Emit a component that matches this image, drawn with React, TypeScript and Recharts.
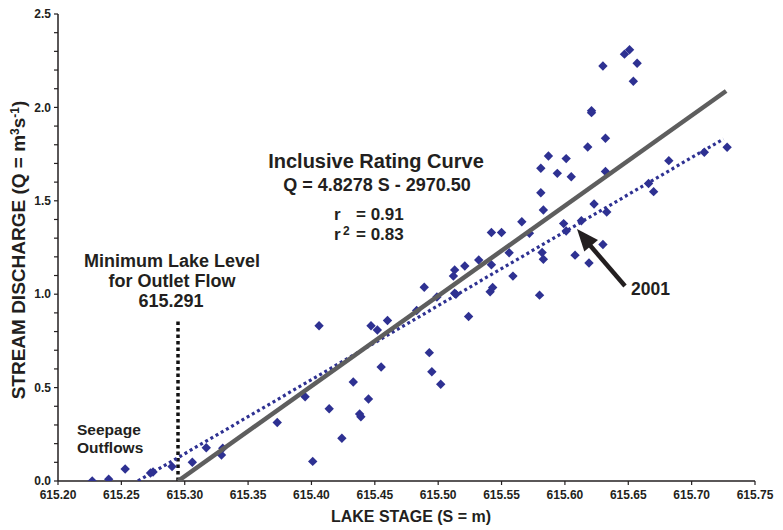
import { ScatterChart, Scatter, XAxis, YAxis, ReferenceLine } from 'recharts'

// lake stage (m) and stream discharge (m3/s)
const stage = [
  615.227, 615.24, 615.253, 615.273, 615.275, 615.29, 615.306, 615.317, 615.33, 615.329,
  615.373, 615.395, 615.401, 615.406, 615.414, 615.424, 615.433, 615.438, 615.439, 615.445,
  615.447, 615.452, 615.455, 615.46, 615.483, 615.489, 615.493, 615.495, 615.499, 615.502,
  615.512, 615.513, 615.513, 615.514, 615.521, 615.524, 615.532, 615.542, 615.542, 615.55,
  615.541, 615.543, 615.556, 615.559, 615.566, 615.572, 615.58, 615.581, 615.581, 615.582,
  615.583, 615.583, 615.587, 615.594, 615.599, 615.601, 615.601, 615.605, 615.608, 615.613,
  615.618, 615.619, 615.621, 615.621, 615.623, 615.63, 615.63, 615.632, 615.632, 615.633,
  615.647, 615.651, 615.657, 615.654, 615.666, 615.67, 615.682, 615.71, 615.728,
]
const discharge = [
  0.0, 0.01, 0.064, 0.043, 0.048, 0.077, 0.1, 0.178, 0.175, 0.139,
  0.313, 0.451, 0.105, 0.831, 0.387, 0.229, 0.53, 0.359, 0.344, 0.439,
  0.831, 0.808, 0.61, 0.859, 0.913, 1.037, 0.687, 0.585, 0.985, 0.518,
  1.097, 1.13, 1.005, 1.0, 1.151, 0.881, 1.183, 1.158, 1.33, 1.33,
  1.013, 1.036, 1.222, 1.097, 1.388, 1.326, 0.995, 1.543, 1.674, 1.223,
  1.187, 1.451, 1.74, 1.647, 1.378, 1.338, 1.726, 1.629, 1.209, 1.393,
  1.788, 1.167, 1.982, 1.972, 1.483, 1.266, 2.222, 1.835, 1.657, 1.44,
  2.285, 2.309, 2.236, 2.14, 1.593, 1.549, 1.715, 1.76, 1.787,
]

// inclusive rating curve (solid) and 2001 trend (dotted), end points as drawn
const ratingStage = [615.2947, 615.7272]
const ratingQ = [0, 2.088]
const trendStage = [615.2631, 615.7251]
const trendQ = [0, 1.831]

const minLevelStage = 615.2947
const minLevelTop = 0.862

const xTicks = [615.2, 615.25, 615.3, 615.35, 615.4, 615.45, 615.5, 615.55, 615.6, 615.65, 615.7, 615.75]
const yTicks = [
  0, 0.1, 0.2, 0.3, 0.4, 0.5, 0.6, 0.7, 0.8, 0.9, 1.0, 1.1, 1.2,
  1.3, 1.4, 1.5, 1.6, 1.7, 1.8, 1.9, 2.0, 2.1, 2.2, 2.3, 2.4, 2.5,
]

const INK = '#231f20'
const BLUE = '#2e3192'
const GREY = '#5e5e5e'
const FONT = '"Liberation Sans", Arial, Helvetica, sans-serif'

const toPoints = (xs: number[], ys: number[]) => xs.map((x, i) => ({ x, y: ys[i] }))

const points = toPoints(stage, discharge)
const rating = toPoints(ratingStage, ratingQ)
const trend = toPoints(trendStage, trendQ)

function Diamond(props: any) {
  const { cx, cy } = props
  if (cx == null || cy == null) return <g />
  const r = 4.7
  return <polygon points={`${cx},${cy - r} ${cx + r},${cy} ${cx},${cy + r} ${cx - r},${cy}`} fill={BLUE} />
}

const NoDot = () => <g />

const yLabel = (v: number) => (Math.abs(v * 2 - Math.round(v * 2)) < 1e-6 ? v.toFixed(1) : '')

export default function App() {
  const bold = { fontFamily: FONT, fontWeight: 700, fill: INK }
  return (
    <div style={{ position: 'absolute', left: 0, top: 0, width: 783, height: 530, background: '#fff' }}>
      <ScatterChart width={783} height={530} margin={{ top: 14, right: 28, bottom: 0, left: 0 }}>
        <XAxis
          type="number"
          dataKey="x"
          domain={[615.2, 615.75]}
          ticks={xTicks}
          interval={0}
          allowDataOverflow
          tickFormatter={(v: number) => v.toFixed(2)}
          height={49}
          tickSize={4}
          tickMargin={5}
          axisLine={{ stroke: INK, strokeWidth: 1.5 }}
          tickLine={{ stroke: INK, strokeWidth: 1.2 }}
          tick={{ fill: INK, fontSize: 12, fontWeight: 700, fontFamily: FONT }}
        />
        <YAxis
          type="number"
          dataKey="y"
          domain={[0, 2.5]}
          ticks={yTicks}
          interval={0}
          allowDataOverflow
          tickFormatter={yLabel}
          width={58}
          tickSize={4}
          tickMargin={3}
          axisLine={{ stroke: INK, strokeWidth: 1.5 }}
          tickLine={{ stroke: INK, strokeWidth: 1.2 }}
          tick={{ fill: INK, fontSize: 12, fontWeight: 700, fontFamily: FONT }}
        />
        <Scatter data={points} shape={Diamond} isAnimationActive={false} />
        <ReferenceLine
          segment={[{ x: minLevelStage, y: 0 }, { x: minLevelStage, y: minLevelTop }]}
          stroke="#111"
          strokeWidth={3.5}
          strokeDasharray="3.5 3"
        />
        <Scatter
          data={trend}
          line={{ stroke: BLUE, strokeWidth: 3.2, strokeDasharray: '3 3' }}
          shape={NoDot}
          isAnimationActive={false}
        />
        <Scatter data={rating} line={{ stroke: GREY, strokeWidth: 4.5 }} shape={NoDot} isAnimationActive={false} />
      </ScatterChart>

      <svg width={783} height={530} style={{ position: 'absolute', left: 0, top: 0, pointerEvents: 'none' }}>
        <text x={376} y={168} textAnchor="middle" fontSize={20} {...bold}>Inclusive Rating Curve</text>
        <text x={377} y={191} textAnchor="middle" fontSize={18} {...bold}>Q = 4.8278 S - 2970.50</text>
        <text x={334} y={220} fontSize={17} {...bold}>r</text>
        <text x={356} y={220} fontSize={17} {...bold}>= 0.91</text>
        <text x={334} y={240} fontSize={17} {...bold}>r</text>
        <text x={343} y={235} fontSize={12} {...bold}>2</text>
        <text x={356} y={240} fontSize={17} {...bold}>= 0.83</text>

        <text x={172} y={266.5} textAnchor="middle" fontSize={18} {...bold}>Minimum Lake Level</text>
        <text x={172} y={286.5} textAnchor="middle" fontSize={18} {...bold}>for Outlet Flow</text>
        <text x={171} y={306.5} textAnchor="middle" fontSize={18} {...bold}>615.291</text>

        <text x={77} y={434.5} fontSize={15.5} {...bold}>Seepage</text>
        <text x={77} y={452.5} fontSize={15.5} {...bold}>Outflows</text>

        <line x1={625} y1={286} x2={588} y2={243} stroke={INK} strokeWidth={4.5} />
        <polygon points="577,229 598,240 584.3,251.6" fill={INK} />
        <text x={631} y={295} fontSize={17.5} {...bold}>2001</text>

        <text x={411} y={522} textAnchor="middle" fontSize={16} {...bold}>LAKE STAGE (S = m)</text>
        <text transform="translate(25,250) rotate(-90)" textAnchor="middle" fontSize={19} {...bold}>
          STREAM DISCHARGE (Q = m<tspan dy={-6} fontSize={12}>3</tspan>
          <tspan dy={6}>s</tspan>
          <tspan dy={-6} fontSize={12}>-1</tspan>
          <tspan dy={6}>)</tspan>
        </text>
      </svg>
    </div>
  )
}
